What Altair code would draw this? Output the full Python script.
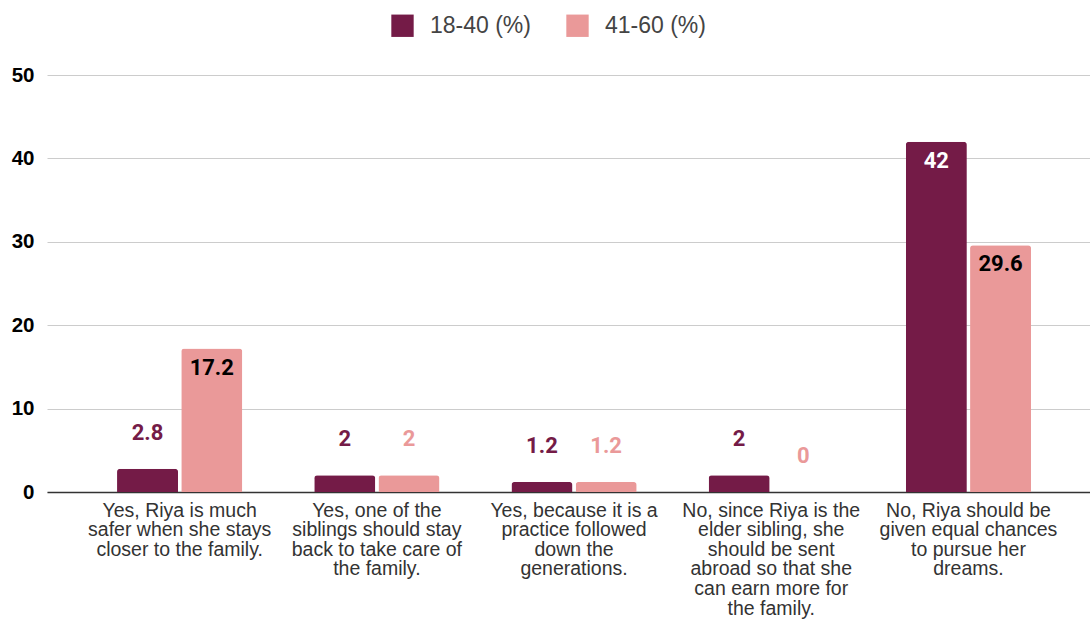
import altair as alt
import pandas as pd

categories = [
    "Yes, Riya is much\nsafer when she stays\ncloser to the family.",
    "Yes, one of the\nsiblings should stay\nback to take care of\nthe family.",
    "Yes, because it is a\npractice followed\ndown the\ngenerations.",
    "No, since Riya is the\nelder sibling, she\nshould be sent\nabroad so that she\ncan earn more for\nthe family.",
    "No, Riya should be\ngiven equal chances\nto pursue her\ndreams.",
]
series_names = ["18-40 (%)", "41-60 (%)"]
values_18_40 = [2.8, 2, 1.2, 2, 42]
values_41_60 = [17.2, 2, 1.2, 0, 29.6]
colors = ["#741b47", "#ea9999"]

rows = []
for i, c in enumerate(categories):
    rows.append({"category": c, "series": series_names[0], "value": values_18_40[i]})
    rows.append({"category": c, "series": series_names[1], "value": values_41_60[i]})
df = pd.DataFrame(rows)

x_enc = alt.X(
    "category:N",
    sort=categories,
    scale=alt.Scale(paddingInner=0.365, paddingOuter=0.327, align=0.543),
    axis=alt.Axis(
        title=None,
        labelAngle=0,
        labelExpr="split(datum.label, '\\n')",
        labelFont="Liberation Sans",
        labelFontSize=19.5,
        labelColor="#333333",
        labelLineHeight=19.6,
        labelPadding=9,
        labelBaseline="top",
        ticks=False,
        domainColor="#333333",
        domainWidth=1.5,
        grid=False,
        labelLimit=400,
    ),
)
xoff = alt.XOffset("series:N", sort=series_names, scale=alt.Scale(paddingInner=0.05, paddingOuter=0))
y_enc = alt.Y(
    "value:Q",
    scale=alt.Scale(domain=[0, 50], nice=False),
    axis=alt.Axis(
        title=None,
        values=[0, 10, 20, 30, 40, 50],
        labelFont="Liberation Sans",
        labelFontWeight="bold",
        labelFontSize=20.5,
        labelColor="#000000",
        labelPadding=13,
        ticks=False,
        domain=False,
        gridColor="#cccccc",
        gridWidth=1,
    ),
)
color_enc = alt.Color(
    "series:N",
    sort=series_names,
    scale=alt.Scale(domain=series_names, range=colors),
    legend=alt.Legend(
        title=None,
        orient="none",
        direction="horizontal",
        legendX=344,
        legendY=-61,
        symbolType="square",
        symbolSize=500,
        symbolStrokeWidth=0,
        labelFont="Liberation Sans",
        labelFontSize=23,
        labelColor="#444444",
        labelOffset=16,
        columnPadding=35,
    ),
)

base = alt.Chart(df)

bars = base.mark_bar(cornerRadiusTopLeft=3, cornerRadiusTopRight=3).encode(
    x=x_enc, xOffset=xoff, y=y_enc, color=color_enc
)

outside = base.transform_filter("datum.value <= 10").mark_text(
    dy=-36, font="Roboto", fontWeight="bold", fontSize=22, baseline="middle"
).encode(
    x=x_enc, xOffset=xoff, y=y_enc,
    text=alt.Text("value:Q"),
    color=alt.Color("series:N", scale=alt.Scale(domain=series_names, range=colors), legend=None),
)

inside = base.transform_filter("datum.value > 10").mark_text(
    dy=19, font="Roboto", fontWeight="bold", fontSize=22, baseline="middle"
).encode(
    x=x_enc, xOffset=xoff, y=y_enc,
    text=alt.Text("value:Q"),
    color=alt.condition(alt.datum.series == series_names[0], alt.value("#ffffff"), alt.value("#000000")),
)

chart = alt.layer(bars, outside, inside).properties(
    width=1043,
    height=417,
    autosize=alt.AutoSizeParams(type="none"),
    padding={"left": 47, "top": 75, "right": 0, "bottom": 129},
).configure(background="#ffffff").configure_view(stroke=None)

chart.save("out.html", embed_options={"renderer": "svg", "actions": False})
